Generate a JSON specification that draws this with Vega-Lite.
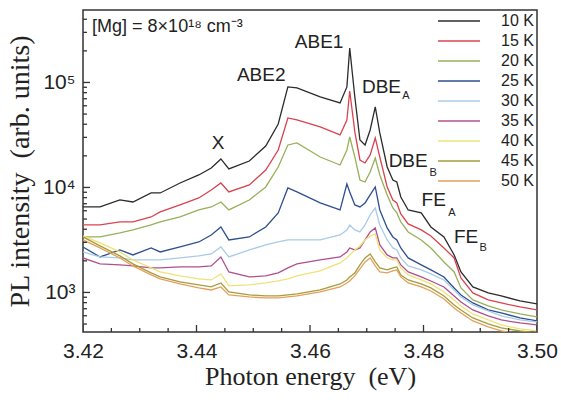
{
  "$schema": "https://vega.github.io/schema/vega-lite/v6.json",
  "width": 454,
  "height": 322,
  "autosize": {"type": "none"},
  "padding": {"left": 83, "top": 10, "right": 24, "bottom": 71},
  "background": "white",
  "config": {
    "view": {"stroke": "#333333", "strokeWidth": 1.5},
    "font": "Liberation Sans"
  },
  "layer": [
    {
      "data": {
        "values": [
          {"E": 3.4200, "10 K": 6520, "15 K": 4394, "20 K": 3378, "25 K": 2712, "30 K": 2431, "35 K": 2131, "40 K": 3452, "45 K": 3378, "50 K": 3162},
          {"E": 3.4230, "10 K": 6520, "15 K": 4394, "20 K": 3378, "25 K": 2178, "30 K": 2178, "35 K": 1869, "40 K": 2961, "45 K": 2773, "50 K": 2654},
          {"E": 3.4265, "10 K": 7601, "15 K": 4693, "20 K": 3687, "25 K": 2540, "30 K": 2131, "35 K": 1828, "40 K": 2431, "45 K": 2227, "50 K": 2131},
          {"E": 3.4288, "10 K": 7275, "15 K": 4693, "20 K": 3938, "25 K": 2276, "30 K": 2040, "35 K": 1788, "40 K": 2040, "45 K": 1869, "50 K": 1788},
          {"E": 3.4320, "10 K": 8860, "15 K": 5237, "20 K": 4394, "25 K": 2654, "30 K": 2040, "35 K": 1712, "40 K": 1712, "45 K": 1534, "50 K": 1468},
          {"E": 3.4336, "10 K": 8860, "15 K": 5844, "20 K": 4693, "25 K": 2431, "30 K": 2040, "35 K": 1712, "40 K": 1568, "45 K": 1405, "50 K": 1345},
          {"E": 3.4371, "10 K": 11030, "15 K": 6812, "20 K": 5237, "25 K": 2712, "30 K": 2131, "35 K": 1750, "40 K": 1436, "45 K": 1259, "50 K": 1205},
          {"E": 3.4404, "10 K": 13150, "15 K": 7942, "20 K": 6106, "25 K": 3026, "30 K": 2227, "35 K": 1750, "40 K": 1345, "45 K": 1179, "50 K": 1104},
          {"E": 3.4426, "10 K": 15330, "15 K": 9465, "20 K": 6520, "25 K": 3529, "30 K": 2327, "35 K": 1788, "40 K": 1315, "45 K": 1128, "50 K": 1056},
          {"E": 3.4443, "10 K": 18680, "15 K": 11030, "20 K": 7275, "25 K": 4205, "30 K": 2712, "35 K": 2178, "40 K": 1500, "45 K": 1231, "50 K": 1128},
          {"E": 3.4457, "10 K": 15000, "15 K": 9059, "20 K": 6106, "25 K": 3162, "30 K": 2178, "35 K": 1568, "40 K": 1153, "45 K": 1011, "50 K": 947},
          {"E": 3.4493, "10 K": 17870, "15 K": 10560, "20 K": 7601, "25 K": 3378, "30 K": 2540, "35 K": 1405, "40 K": 1179, "45 K": 947, "50 K": 906},
          {"E": 3.4522, "10 K": 24840, "15 K": 14670, "20 K": 10110, "25 K": 4205, "30 K": 2834, "35 K": 1436, "40 K": 1231, "45 K": 926, "50 K": 886},
          {"E": 3.4544, "10 K": 40250, "15 K": 22750, "20 K": 15670, "25 K": 5717, "30 K": 3026, "35 K": 1534, "40 K": 1286, "45 K": 926, "50 K": 886},
          {"E": 3.4561, "10 K": 90620, "15 K": 45910, "20 K": 25390, "25 K": 9888, "30 K": 3162, "35 K": 1712, "40 K": 1345, "45 K": 947, "50 K": 906},
          {"E": 3.4577, "10 K": 88650, "15 K": 43940, "20 K": 26540, "25 K": 9059, "30 K": 3162, "35 K": 1869, "40 K": 1436, "45 K": 967, "50 K": 926},
          {"E": 3.4618, "10 K": 72770, "15 K": 37690, "20 K": 19510, "25 K": 7117, "30 K": 3162, "35 K": 2040, "40 K": 1602, "45 K": 1056, "50 K": 1011},
          {"E": 3.4653, "10 K": 63800, "15 K": 31620, "20 K": 16370, "25 K": 6106, "30 K": 3529, "35 K": 2178, "40 K": 1910, "45 K": 1205, "50 K": 1128},
          {"E": 3.4665, "10 K": 90620, "15 K": 43940, "20 K": 22750, "25 K": 10790, "30 K": 3938, "35 K": 2431, "40 K": 2131, "45 K": 1315, "50 K": 1231},
          {"E": 3.4670, "10 K": 213100, "15 K": 83000, "20 K": 30260, "25 K": 9059, "30 K": 4394, "35 K": 2654, "40 K": 2276, "45 K": 1405, "50 K": 1286},
          {"E": 3.4679, "10 K": 72770, "15 K": 33780, "20 K": 19510, "25 K": 6812, "30 K": 3938, "35 K": 2540, "40 K": 2540, "45 K": 1534, "50 K": 1436},
          {"E": 3.4688, "10 K": 28340, "15 K": 18270, "20 K": 11780, "25 K": 6520, "30 K": 3769, "35 K": 2654, "40 K": 2773, "45 K": 1828, "50 K": 1675},
          {"E": 3.4697, "10 K": 25390, "15 K": 17110, "20 K": 11270, "25 K": 7117, "30 K": 4394, "35 K": 3162, "40 K": 3162, "45 K": 2131, "50 K": 1952},
          {"E": 3.4706, "10 K": 35290, "15 K": 20390, "20 K": 14040, "25 K": 8482, "30 K": 5472, "35 K": 3769, "40 K": 3452, "45 K": 2327, "50 K": 2131},
          {"E": 3.4715, "10 K": 58440, "15 K": 29610, "20 K": 19090, "25 K": 10110, "30 K": 6378, "35 K": 4114, "40 K": 3607, "45 K": 1952, "50 K": 1788},
          {"E": 3.4723, "10 K": 33040, "15 K": 19510, "20 K": 13150, "25 K": 6106, "30 K": 4394, "35 K": 2834, "40 K": 2540, "45 K": 1712, "50 K": 1568},
          {"E": 3.4736, "10 K": 15670, "15 K": 10110, "20 K": 8482, "25 K": 4114, "30 K": 3162, "35 K": 2276, "40 K": 2131, "45 K": 1638, "50 K": 1534},
          {"E": 3.4746, "10 K": 11780, "15 K": 7601, "20 K": 6378, "25 K": 3378, "30 K": 2654, "35 K": 2131, "40 K": 2040, "45 K": 1712, "50 K": 1602},
          {"E": 3.4753, "10 K": 11270, "15 K": 7117, "20 K": 5717, "25 K": 3162, "30 K": 2540, "35 K": 2131, "40 K": 2040, "45 K": 1750, "50 K": 1638},
          {"E": 3.4760, "10 K": 8118, "15 K": 5593, "20 K": 4693, "25 K": 2654, "30 K": 2131, "35 K": 1828, "40 K": 1712, "45 K": 1468, "50 K": 1405},
          {"E": 3.4773, "10 K": 6106, "15 K": 4491, "20 K": 3769, "25 K": 2131, "30 K": 1788, "35 K": 1568, "40 K": 1468, "45 K": 1315, "50 K": 1231},
          {"E": 3.4796, "10 K": 5717, "15 K": 3938, "20 K": 3162, "25 K": 1828, "30 K": 1638, "35 K": 1405, "40 K": 1315, "45 K": 1205, "50 K": 1128},
          {"E": 3.4813, "10 K": 4205, "15 K": 3452, "20 K": 2654, "25 K": 1638, "30 K": 1500, "35 K": 1286, "40 K": 1205, "45 K": 1104, "50 K": 1033},
          {"E": 3.4836, "10 K": 3378, "15 K": 2654, "20 K": 1952, "25 K": 1405, "30 K": 1315, "35 K": 1128, "40 K": 1011, "45 K": 926, "50 K": 867},
          {"E": 3.4854, "10 K": 2276, "15 K": 2131, "20 K": 1568, "25 K": 1104, "30 K": 1056, "35 K": 926, "40 K": 848, "45 K": 760, "50 K": 712},
          {"E": 3.4866, "10 K": 1568, "15 K": 1375, "20 K": 1104, "25 K": 947, "30 K": 906, "35 K": 812, "40 K": 744, "45 K": 681, "50 K": 638},
          {"E": 3.4887, "10 K": 1128, "15 K": 989, "20 K": 848, "25 K": 794, "30 K": 760, "35 K": 681, "40 K": 624, "45 K": 572, "50 K": 535},
          {"E": 3.4914, "10 K": 989, "15 K": 848, "20 K": 744, "25 K": 681, "30 K": 666, "35 K": 597, "40 K": 547, "45 K": 501, "50 K": 469},
          {"E": 3.4937, "10 K": 926, "15 K": 794, "20 K": 681, "25 K": 638, "30 K": 597, "35 K": 547, "40 K": 490, "45 K": 459, "50 K": 430},
          {"E": 3.4970, "10 K": 830, "15 K": 728, "20 K": 624, "25 K": 572, "30 K": 547, "35 K": 512, "40 K": 449, "45 K": 430, "50 K": 403},
          {"E": 3.5000, "10 K": 777, "15 K": 681, "20 K": 584, "25 K": 535, "30 K": 524, "35 K": 490, "40 K": 430, "45 K": 411, "50 K": 385}
        ]
      },
      "transform": [
        {"fold": ["10 K", "15 K", "20 K", "25 K", "30 K", "35 K", "40 K", "45 K", "50 K"], "as": ["T", "I"]}
      ],
      "mark": {"type": "line", "strokeWidth": 1.3, "clip": true},
      "encoding": {
        "x": {
          "field": "E",
          "type": "quantitative",
          "scale": {"domain": [3.42, 3.5], "nice": false, "zero": false},
          "axis": {
            "title": "Photon energy \u00a0(eV)",
            "titleFont": "Liberation Serif",
            "titleFontSize": 26,
            "titleFontWeight": "normal",
            "titleColor": "#222222",
            "titlePadding": 2,
            "values": [3.42, 3.44, 3.46, 3.48, 3.5],
            "format": ".2f",
            "labelFontSize": 21,
            "labelColor": "#222222",
            "labelFlush": false,
            "labelOverlap": false,
            "grid": false,
            "domain": false,
            "ticks": false,
            "labelPadding": 8
          }
        },
        "y": {
          "field": "I",
          "type": "quantitative",
          "scale": {"type": "log", "domain": [420, 490000], "nice": false},
          "axis": {
            "title": "PL intensity \u00a0(arb. units)",
            "titleFont": "Liberation Serif",
            "titleFontSize": 28,
            "titleFontWeight": "normal",
            "titleColor": "#222222",
            "titlePadding": 8,
            "values": [1000, 10000, 100000],
            "labelExpr": "datum.value == 1000 ? '10³' : datum.value == 10000 ? '10⁴' : '10⁵'",
            "labelFontSize": 21,
            "labelColor": "#222222",
            "labelOverlap": false,
            "labelFlush": false,
            "grid": false,
            "domain": false,
            "ticks": false,
            "labelPadding": 8
          }
        },
        "color": {
          "field": "T",
          "type": "nominal",
          "scale": {
            "domain": ["10 K", "15 K", "20 K", "25 K", "30 K", "35 K", "40 K", "45 K", "50 K"],
            "range": ["#2b2b2b", "#d9434f", "#97b05a", "#2f4f8f", "#a9cbe8", "#b0508f", "#efe27a", "#a89c3c", "#e3a05a"]
          },
          "legend": {
            "orient": "top-right",
            "offset": 3,
            "title": null,
            "padding": 0,
            "symbolType": "M-3,0H3",
            "symbolSize": 196,
            "symbolStrokeWidth": 1.3,
            "labelFontSize": 16,
            "labelColor": "#222222",
            "labelOffset": 34,
            "rowPadding": 4
          }
        }
      }
    },
    {
      "data": {
        "values": [
          {"E": 3.42, "k": "major"}, {"E": 3.425, "k": "minor"}, {"E": 3.43, "k": "minor"}, {"E": 3.435, "k": "minor"},
          {"E": 3.44, "k": "major"}, {"E": 3.445, "k": "minor"}, {"E": 3.45, "k": "minor"}, {"E": 3.455, "k": "minor"},
          {"E": 3.46, "k": "major"}, {"E": 3.465, "k": "minor"}, {"E": 3.47, "k": "minor"}, {"E": 3.475, "k": "minor"},
          {"E": 3.48, "k": "major"}, {"E": 3.485, "k": "minor"}, {"E": 3.49, "k": "minor"}, {"E": 3.495, "k": "minor"},
          {"E": 3.5, "k": "major"}
        ]
      },
      "mark": {"type": "tick", "orient": "vertical", "thickness": 1.3, "color": "#333333", "opacity": 1, "clip": true},
      "encoding": {
        "x": {"field": "E", "type": "quantitative"},
        "y": {"datum": 420},
        "size": {"field": "k", "type": "nominal", "scale": {"domain": ["major", "minor"], "range": [14, 8]}, "legend": null}
      }
    },
    {
      "data": {
        "values": [
          {"I": 500, "k": "minor"}, {"I": 600, "k": "minor"}, {"I": 700, "k": "minor"}, {"I": 800, "k": "minor"}, {"I": 900, "k": "minor"},
          {"I": 1000, "k": "major"}, {"I": 2000, "k": "minor"}, {"I": 3000, "k": "minor"}, {"I": 4000, "k": "minor"}, {"I": 5000, "k": "minor"},
          {"I": 6000, "k": "minor"}, {"I": 7000, "k": "minor"}, {"I": 8000, "k": "minor"}, {"I": 9000, "k": "minor"},
          {"I": 10000, "k": "major"}, {"I": 20000, "k": "minor"}, {"I": 30000, "k": "minor"}, {"I": 40000, "k": "minor"}, {"I": 50000, "k": "minor"},
          {"I": 60000, "k": "minor"}, {"I": 70000, "k": "minor"}, {"I": 80000, "k": "minor"}, {"I": 90000, "k": "minor"},
          {"I": 100000, "k": "major"}, {"I": 200000, "k": "minor"}, {"I": 300000, "k": "minor"}, {"I": 400000, "k": "minor"}
        ]
      },
      "mark": {"type": "tick", "orient": "horizontal", "thickness": 1.3, "color": "#333333", "opacity": 1, "clip": true},
      "encoding": {
        "y": {"field": "I", "type": "quantitative"},
        "x": {"datum": 3.42},
        "size": {"field": "k", "type": "nominal", "scale": {"domain": ["major", "minor"], "range": [14, 8]}, "legend": null}
      }
    },
    {
      "data": {
        "values": [
          {"E": 3.4438, "I": 26540, "t": "X"},
          {"E": 3.4514, "I": 117900, "t": "ABE2"},
          {"E": 3.4616, "I": 243100, "t": "ABE1"},
          {"E": 3.4726, "I": 90600, "t": "DBE"},
          {"E": 3.4773, "I": 17870, "t": "DBE"},
          {"E": 3.4818, "I": 7601, "t": "FE"},
          {"E": 3.4875, "I": 3378, "t": "FE"}
        ]
      },
      "mark": {"type": "text", "fontSize": 19, "color": "#222222", "align": "center", "baseline": "middle"},
      "encoding": {
        "x": {"field": "E", "type": "quantitative"},
        "y": {"field": "I", "type": "quantitative"},
        "text": {"field": "t"}
      }
    },
    {
      "data": {
        "values": [
          {"E": 3.4769, "I": 74350, "t": "A"},
          {"E": 3.4817, "I": 13740, "t": "B"},
          {"E": 3.4850, "I": 5717, "t": "A"},
          {"E": 3.4905, "I": 2654, "t": "B"}
        ]
      },
      "mark": {"type": "text", "fontSize": 11, "color": "#222222", "align": "center", "baseline": "middle"},
      "encoding": {
        "x": {"field": "E", "type": "quantitative"},
        "y": {"field": "I", "type": "quantitative"},
        "text": {"field": "t"}
      }
    },
    {
      "data": {
        "values": [
          {"E": 3.4216, "I": 337800, "t": "[Mg] = 8×10¹⁸ cm⁻³"}
        ]
      },
      "mark": {"type": "text", "fontSize": 18, "color": "#222222", "align": "left", "baseline": "middle"},
      "encoding": {
        "x": {"field": "E", "type": "quantitative"},
        "y": {"field": "I", "type": "quantitative"},
        "text": {"field": "t"}
      }
    }
  ]
}
